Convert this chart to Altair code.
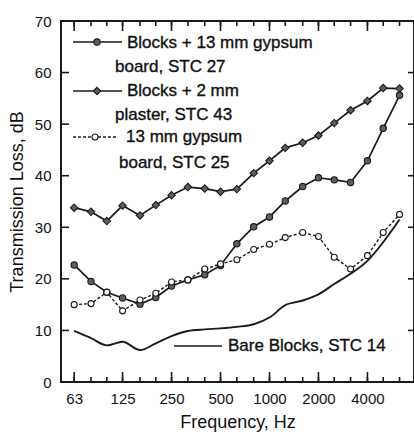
import altair as alt
import pandas as pd

# One-third-octave band centre frequencies, Hz
bands = [63, 80, 100, 125, 160, 200, 250, 315, 400, 500, 630,
         800, 1000, 1250, 1600, 2000, 2500, 3150, 4000, 5000, 6300]

# Transmission loss, dB
tl_plaster = [33.8, 33.0, 31.2, 34.2, 32.3, 34.3, 36.2, 37.8, 37.5, 36.9, 37.4,
              40.5, 42.9, 45.4, 46.4, 47.8, 50.2, 52.7, 54.5, 57.0, 56.9]
tl_blocks_gypsum = [22.7, 19.5, 17.4, 16.3, 15.1, 16.4, 18.6, 19.8, 20.8, 22.6, 26.8,
                    30.1, 32.0, 35.1, 37.9, 39.6, 39.2, 38.7, 42.9, 49.2, 55.6]
tl_gypsum = [15.0, 15.2, 17.4, 13.8, 15.9, 17.2, 19.4, 19.8, 21.9, 22.9, 23.7,
             25.7, 26.7, 28.0, 29.0, 28.2, 24.2, 21.9, 24.5, 29.0, 32.5]
tl_bare = [9.9, 8.5, 7.1, 7.8, 6.2, 7.5, 8.9, 9.9, 10.2, 10.4, 10.7,
           11.2, 12.5, 14.9, 15.8, 17.0, 19.0, 21.0, 23.5, 27.1, 31.5]

octave_labels = [63, 125, 250, 500, 1000, 2000, 4000]
db_ticks = [0, 10, 20, 30, 40, 50, 60, 70]

W, H = 353, 361
FONT = "Liberation Sans"
INK = "#1a1a1a"
MARK_FILL = "#5e5e5e"

def series(vals):
    return pd.DataFrame({"f": bands, "tl": vals})

x_scale = alt.Scale(type="log", domain=[52.3, 7730], nice=False)
y_scale = alt.Scale(domain=[0, 70], nice=False)

x_axis = alt.Axis(values=octave_labels, format="d", title="Frequency, Hz",
                  labelPadding=9, titleX=W / 2, titleY=45,
                  titleBaseline="alphabetic")
y_axis = alt.Axis(values=db_ticks, format="d", title="Transmission Loss, dB",
                  labelPadding=10, titleX=-39, titleY=H / 2,
                  titleBaseline="alphabetic")
X = alt.X("f:Q", scale=x_scale, axis=x_axis)
Y = alt.Y("tl:Q", scale=y_scale, axis=y_axis)

bare = alt.Chart(series(tl_bare)).mark_line(
    color=INK, strokeWidth=1.9, interpolate="monotone").encode(x=X, y=Y)

def marked(vals, shape, fill, size, dash=None):
    line_kw = dict(color=INK, strokeWidth=1.7)
    if dash:
        line_kw["strokeDash"] = dash
        line_kw["strokeWidth"] = 1.4
    base = alt.Chart(series(vals))
    line = base.mark_line(**line_kw).encode(x=X, y=Y)
    pts = base.mark_point(shape=shape, filled=True, fill=fill, stroke=INK,
                          strokeWidth=1.1, size=size, opacity=1).encode(x=X, y=Y)
    return line + pts

plaster = marked(tl_plaster, "diamond", MARK_FILL, 55)
blocks_gypsum = marked(tl_blocks_gypsum, "circle", MARK_FILL, 40)
gypsum = marked(tl_gypsum, "circle", "white", 36, dash=[3, 2])

# Frame ticks: third-octave ticks on the bottom and top edges, octave ticks longer
band_df = pd.DataFrame({"f": bands})
oct_df = pd.DataFrame({"f": octave_labels})
tick_style = dict(color=INK, strokeWidth=1.6)
bottom_minor = alt.Chart(band_df).mark_rule(**tick_style).encode(
    x=X, y=alt.value(H), y2=alt.value(H - 5))
bottom_major = alt.Chart(oct_df).mark_rule(**tick_style).encode(
    x=X, y=alt.value(H), y2=alt.value(H - 10))
top_minor = alt.Chart(band_df).mark_rule(**tick_style).encode(
    x=X, y=alt.value(0), y2=alt.value(5))
top_major = alt.Chart(oct_df).mark_rule(**tick_style).encode(
    x=X, y=alt.value(0), y2=alt.value(10))
db_df = pd.DataFrame({"tl": db_ticks})
left_ticks = alt.Chart(db_df).mark_rule(**tick_style).encode(
    y=Y, x=alt.value(0), x2=alt.value(8))
right_ticks = alt.Chart(db_df).mark_rule(**tick_style).encode(
    y=Y, x=alt.value(W), x2=alt.value(W - 6))

# Key, drawn inside the plot
def key_line(x0, x1, y, dash=None):
    kw = dict(color=INK, strokeWidth=1.6)
    if dash:
        kw["strokeDash"] = dash
        kw["strokeWidth"] = 1.4
    return alt.Chart().mark_rule(**kw).encode(
        x=alt.value(x0), x2=alt.value(x1), y=alt.value(y))

def key_point(x, y, shape, fill, size):
    return alt.Chart().mark_point(shape=shape, filled=True, fill=fill, stroke=INK,
                                  strokeWidth=1.1, size=size, opacity=1).encode(
        x=alt.value(x), y=alt.value(y))

def key_text(x, y, text):
    return alt.Chart().mark_text(text=text, align="left", baseline="middle",
                                 font=FONT, fontSize=17, color="#111",
                                 stroke="#111", strokeWidth=0.35).encode(
        x=alt.value(x), y=alt.value(y))

key = (
    key_line(12, 61, 21) + key_point(36, 21, "circle", MARK_FILL, 40)
    + key_text(66, 22, "Blocks + 13 mm gypsum") + key_text(54, 46, "board, STC 27")
    + key_line(12, 61, 70) + key_point(36, 70, "diamond", MARK_FILL, 55)
    + key_text(66, 70, "Blocks + 2 mm") + key_text(54, 94, "plaster, STC 43")
    + key_line(12, 56, 116, dash=[3, 2]) + key_point(34, 116, "circle", "white", 36)
    + key_text(65, 116, "13 mm gypsum") + key_text(58, 142, "board, STC 25")
    + key_line(113, 161, 325) + key_text(167, 325, "Bare Blocks, STC 14")
)

chart = alt.layer(
    bare, plaster, blocks_gypsum, gypsum,
    bottom_minor, bottom_major, top_minor, top_major, left_ticks, right_ticks,
    key,
).properties(
    width=W, height=H,
    autosize=alt.AutoSizeParams(type="none"),
    padding={"left": 61, "top": 21, "right": 0, "bottom": 50},
    background="white",
).configure_view(
    stroke=INK, strokeWidth=2,
).configure_axis(
    domain=False, ticks=False, grid=False,
    labelFont=FONT, labelFontSize=15, labelColor="#111",
    titleFont=FONT, titleFontSize=18, titleFontWeight="normal", titleColor="#111",
)

chart.save("out.html", embed_options={"renderer": "svg", "actions": False})
